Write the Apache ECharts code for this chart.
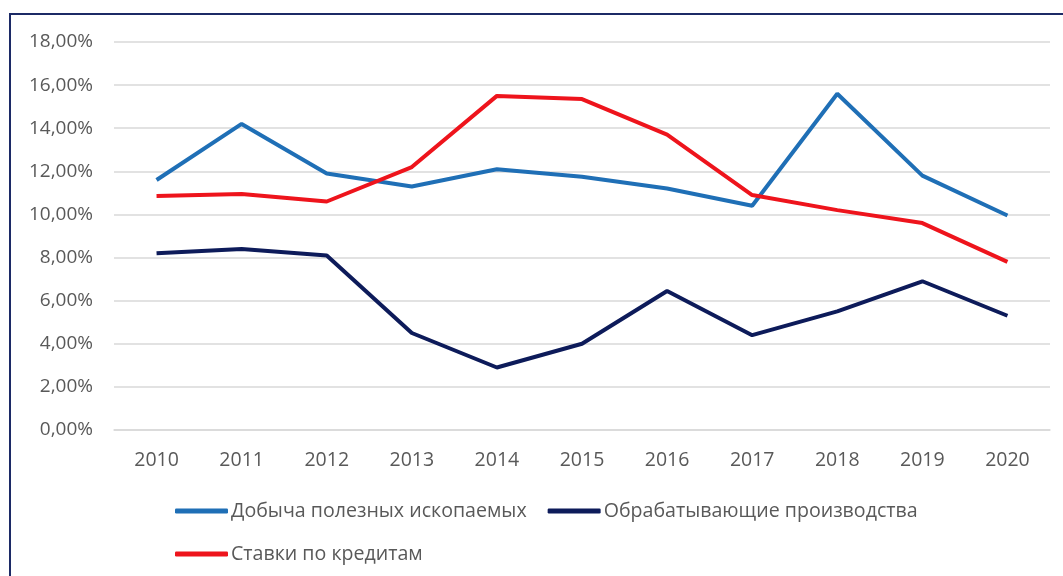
<!DOCTYPE html>
<html>
<head>
<meta charset="utf-8">
<script src="https://cdn.jsdelivr.net/npm/echarts@6/dist/echarts.min.js"></script>
<style>
  html, body { margin: 0; padding: 0; background: #fff; }
  #frame {
    position: absolute; left: 9px; top: 13px; width: 1060px; height: 570px;
    border-left: 2px solid #1c2a66; border-top: 2px solid #1c2a66;
  }
  #chart { position: absolute; left: 0; top: 0; width: 1063px; height: 576px; }
</style>
</head>
<body>
<div id="frame"></div>
<div id="chart"></div>
<script>
const FONT = "'Open Sans', 'Noto Sans', sans-serif"

const years = ['2010', '2011', '2012', '2013', '2014', '2015', '2016', '2017', '2018', '2019', '2020']
const mining = [11.6, 14.2, 11.9, 11.3, 12.1, 11.75, 11.2, 10.4, 15.6, 11.8, 9.95]
const manufacturing = [8.2, 8.4, 8.1, 4.5, 2.9, 4.0, 6.45, 4.4, 5.5, 6.9, 5.3]
const loanRates = [10.85, 10.95, 10.6, 12.2, 15.5, 15.35, 13.7, 10.9, 10.2, 9.6, 7.8]

const names = ['Добыча полезных ископаемых', 'Обрабатывающие производства', 'Ставки по кредитам']
const colors = ['#1f6fb6', '#0d1b5a', '#ee141c']

const chart = echarts.init(document.getElementById('chart'))

const legendBase = {
  left: 170,
  icon: 'roundRect',
  itemWidth: 53,
  itemHeight: 5,
  itemGap: 21,
  textStyle: { fontFamily: FONT, fontSize: 19.6, color: '#595959', padding: [0, 0, 0, -2] }
}

chart.setOption({
  animation: false,
  textStyle: { fontFamily: FONT },
  grid: { left: 114, right: 13, top: 42, bottom: 146 },
  legend: [
    { ...legendBase, top: 496, data: names.slice(0, 2) },
    { ...legendBase, top: 539, data: names.slice(2) }
  ],
  xAxis: {
    type: 'category',
    data: years,
    axisTick: { show: false },
    axisLine: { lineStyle: { color: '#d9d9d9', width: 1.5 } },
    axisLabel: { color: '#595959', fontSize: 19.5, margin: 20, fontFamily: FONT }
  },
  yAxis: {
    type: 'value',
    min: 0,
    max: 18,
    interval: 2,
    axisLine: { show: false },
    axisTick: { show: false },
    splitLine: { lineStyle: { color: '#d9d9d9', width: 1.5 } },
    axisLabel: {
      color: '#595959', fontSize: 19, margin: 21, fontFamily: FONT,
      formatter: v => v.toFixed(2).replace('.', ',') + '%'
    }
  },
  series: [mining, manufacturing, loanRates].map((d, i) => ({
    name: names[i],
    type: 'line',
    data: d,
    symbol: 'none',
    color: colors[i],
    lineStyle: { width: 4, color: colors[i] }
  }))
})
</script>
</body>
</html>
